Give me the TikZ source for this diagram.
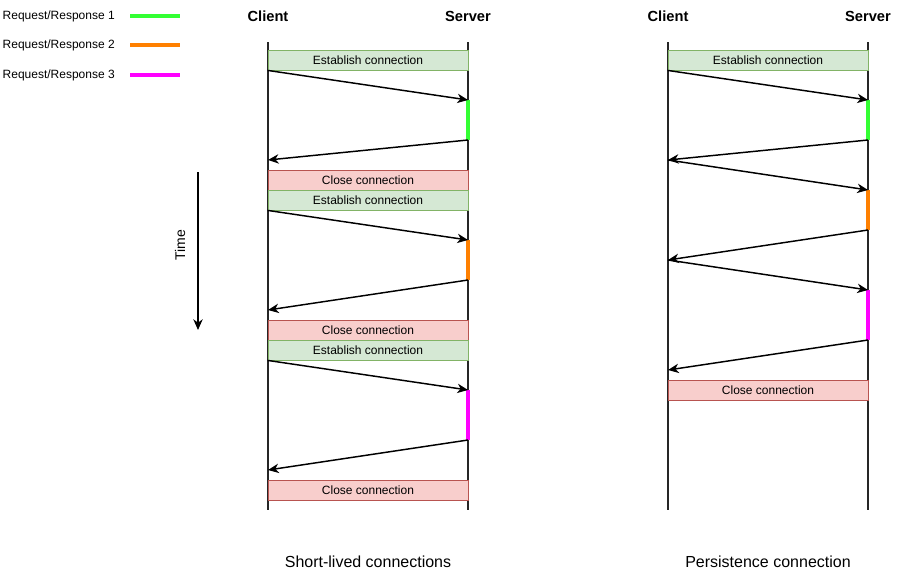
\documentclass[tikz,border=0pt]{standalone}
\usepackage{fontspec}
\setmainfont{Liberation Sans}
\usetikzlibrary{arrows.meta, positioning}

\definecolor{estfill}{HTML}{D5E8D4}
\definecolor{estline}{HTML}{82B366}
\definecolor{clsfill}{HTML}{F8CECC}
\definecolor{clsline}{HTML}{B85450}
\definecolor{rrone}{HTML}{33FF33}
\definecolor{rrtwo}{HTML}{FF8000}
\definecolor{rrthree}{HTML}{FF00FF}

\begin{document}
\begin{tikzpicture}[
    x=0.75pt, y=-0.75pt,
    >={Stealth[length=8pt, width=7pt, inset=2.5pt]},
    life/.style={line width=1pt, black!85},
    msg/.style={->, line width=1.1pt},
    head/.style={font=\bfseries\fontsize{11}{13}\selectfont},
    caption/.style={font=\fontsize{12}{14}\selectfont},
    lgd/.style={font=\fontsize{9}{11}\selectfont, anchor=west},
    conn/.style={minimum width=150pt, minimum height=15pt, inner sep=0pt, line width=0.6pt, font=\fontsize{9}{11}\selectfont},
    estbox/.style={conn, draw=estline, fill=estfill},
    clsbox/.style={conn, draw=clsline, fill=clsfill},
    busyone/.style={line width=2.4pt, rrone},
    busytwo/.style={line width=2.4pt, rrtwo},
    busythree/.style={line width=2.4pt, rrthree},
]
\useasboundingbox (0,0) rectangle (898,578);
% ----- legend
\node[lgd] (lgdone) at (-2,16) {Request/Response 1};
\node[lgd] (lgdtwo) at (-2,45) {Request/Response 2};
\node[lgd] (lgdthree) at (-2,75) {Request/Response 3};
\coordinate (lgdonea) at (130,16); \coordinate (lgdoneb) at (180,16);
\coordinate (lgdtwoa) at (130,45); \coordinate (lgdtwob) at (180,45);
\coordinate (lgdthreea) at (130,75); \coordinate (lgdthreeb) at (180,75);
\draw[line width=3pt, rrone] (lgdonea) -- (lgdoneb);
\draw[line width=3pt, rrtwo] (lgdtwoa) -- (lgdtwob);
\draw[line width=3pt, rrthree] (lgdthreea) -- (lgdthreeb);
% ----- time axis
\coordinate (tstart) at (198,172);
\coordinate (tend) at (198,330);
\draw[msg] (tstart) -- (tend);
\node[rotate=90, font=\fontsize{10.5}{12}\selectfont] (time) at (180,245) {Time};
% ----- short-lived connections
\begin{scope}
\node[head] (client) at (268,16) {Client};
\node[head] (server) at (468,16) {Server};
\coordinate (ctop) at (268,42); \coordinate (cbot) at (268,510);
\coordinate (stop) at (468,42); \coordinate (sbot) at (468,510);
\draw[life] (ctop) -- (cbot);
\draw[life] (stop) -- (sbot);
\node[estbox] (estone) at (368,60) {Establish connection};
\node[clsbox] (clsone) at (368,180) {Close connection};
\node[estbox] (esttwo) at (368,200) {Establish connection};
\node[clsbox] (clstwo) at (368,330) {Close connection};
\node[estbox] (estthree) at (368,350) {Establish connection};
\node[clsbox] (clsthree) at (368,490) {Close connection};
\coordinate (reqone) at (468,100); \coordinate (resone) at (468,140); \coordinate (backone) at (268,160);
\coordinate (reqtwo) at (468,240); \coordinate (restwo) at (468,280); \coordinate (backtwo) at (268,310);
\coordinate (reqthree) at (468,390); \coordinate (resthree) at (468,440); \coordinate (backthree) at (268,470);
\draw[busyone] (reqone) -- (resone);
\draw[busytwo] (reqtwo) -- (restwo);
\draw[busythree] (reqthree) -- (resthree);
\draw[msg] (estone.south west) -- (reqone);
\draw[msg] (resone) -- (backone);
\draw[msg] (esttwo.south west) -- (reqtwo);
\draw[msg] (restwo) -- (backtwo);
\draw[msg] (estthree.south west) -- (reqthree);
\draw[msg] (resthree) -- (backthree);
\node[caption] (shortcap) at (368,562) {Short-lived connections};
\end{scope}
% ----- persistence connection
\begin{scope}[xshift=300pt]
\node[head] (pclient) at (268,16) {Client};
\node[head] (pserver) at (468,16) {Server};
\coordinate (pctop) at (268,42); \coordinate (pcbot) at (268,510);
\coordinate (pstop) at (468,42); \coordinate (psbot) at (468,510);
\draw[life] (pctop) -- (pcbot);
\draw[life] (pstop) -- (psbot);
\node[estbox] (pest) at (368,60) {Establish connection};
\node[clsbox] (pcls) at (368,390) {Close connection};
\coordinate (preqone) at (468,100); \coordinate (presone) at (468,140); \coordinate (pbackone) at (268,160);
\coordinate (preqtwo) at (468,190); \coordinate (prestwo) at (468,230); \coordinate (pbacktwo) at (268,260);
\coordinate (preqthree) at (468,290); \coordinate (presthree) at (468,340); \coordinate (pbackthree) at (268,370);
\draw[busyone] (preqone) -- (presone);
\draw[busytwo] (preqtwo) -- (prestwo);
\draw[busythree] (preqthree) -- (presthree);
\draw[msg] (pest.south west) -- (preqone);
\draw[msg] (presone) -- (pbackone);
\draw[msg] (pbackone) -- (preqtwo);
\draw[msg] (prestwo) -- (pbacktwo);
\draw[msg] (pbacktwo) -- (preqthree);
\draw[msg] (presthree) -- (pbackthree);
\node[caption] (perscap) at (368,562) {Persistence connection};
\end{scope}
\end{tikzpicture}
\end{document}
